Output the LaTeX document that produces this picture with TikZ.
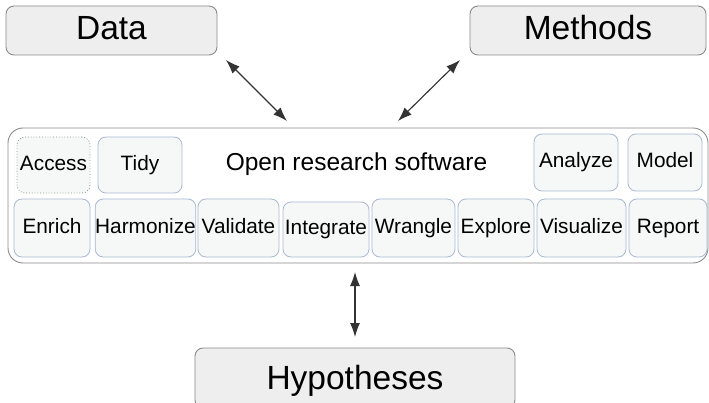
\documentclass[tikz,border=0pt]{standalone}
\usepackage{fontspec}
\setmainfont{Liberation Sans}
\usetikzlibrary{arrows.meta}
\definecolor{outerfill}{HTML}{EEEEEE}
\definecolor{outerdraw}{HTML}{8A8A8A}
\definecolor{innerfill}{HTML}{F6F8F8}
\definecolor{innerdraw}{HTML}{A9B9D1}
\definecolor{arrowcol}{HTML}{333333}
\tikzset{
  bigbox/.style={draw=outerdraw, fill=outerfill, rounded corners=8pt, line width=0.9pt,
    font=\fontsize{33.5}{36}\selectfont, text height=24pt, text depth=5pt, inner sep=0pt},
  tool/.style={draw=innerdraw, fill=innerfill, rounded corners=8pt, line width=0.8pt,
    font=\fontsize{20.8}{22}\selectfont, text height=14.5pt, text depth=3.5pt, inner sep=0pt},
  dottool/.style={tool, draw=outerdraw, dotted},
  link/.style={{Latex[length=14pt,width=10pt]}-{Latex[length=14pt,width=10pt]}, draw=arrowcol, fill=arrowcol, line width=1.1pt}
}
\begin{document}
\begin{tikzpicture}[x=1pt,y=-1pt]
\useasboundingbox (0,0) rectangle (709,403);
\clip (0,0) rectangle (709,403);
% container
\node[draw=outerdraw, fill=white, rounded corners=15pt, line width=0.9pt, minimum width=700pt, minimum height=135pt, inner sep=0pt] (ors) at (358,195.5) {};
\node[font=\fontsize{24.5}{26}\selectfont, anchor=base, inner sep=0pt] (title) at (356.5,171) {Open research software};
% top boxes
\node[bigbox, minimum width=211pt, minimum height=49pt] (data) at (111.5,30.5) {Data};
\node[bigbox, minimum width=236pt, minimum height=49pt] (methods) at (588,30.5) {Methods};
\node[bigbox, minimum width=320pt, minimum height=60pt, text height=24pt, text depth=2pt] (hyp) at (355,378) {Hypotheses};
% row 1
\node[dottool, minimum width=73pt, minimum height=56pt] (access) at (53.5,165) {Access};
\node[tool, minimum width=84pt, minimum height=56pt] (tidy) at (140,165) {Tidy};
\node[tool, minimum width=84pt, minimum height=57pt] (analyze) at (576,162.5) {Analyze};
\node[tool, minimum width=74pt, minimum height=57pt] (model) at (665,162.5) {Model};
% row 2
\node[tool, minimum width=76pt, minimum height=58pt] (enrich) at (52,228) {Enrich};
\node[tool, minimum width=99pt, minimum height=58pt] (harm) at (145.5,228) {Harmonize};
\node[tool, minimum width=81pt, minimum height=58pt] (valid) at (238.5,228) {Validate};
\node[tool, minimum width=86pt, minimum height=55pt] (integ) at (326,229.5) {Integrate};
\node[tool, minimum width=83pt, minimum height=58pt] (wrangle) at (413.5,228) {Wrangle};
\node[tool, minimum width=76pt, minimum height=58pt] (explore) at (496,228) {Explore};
\node[tool, minimum width=89pt, minimum height=58pt] (visual) at (581.5,228) {Visualize};
\node[tool, minimum width=78pt, minimum height=58pt] (report) at (668,228) {Report};
% connectors
\coordinate (d1) at (226,60);
\coordinate (d2) at (287,121);
\coordinate (m1) at (460,60);
\coordinate (m2) at (398,121);
\coordinate (h1) at (355,272);
\coordinate (h2) at (355,337);
\draw[link] (d1) -- (d2);
\draw[link] (m1) -- (m2);
\draw[link] (h1) -- (h2);
\end{tikzpicture}
\end{document}
